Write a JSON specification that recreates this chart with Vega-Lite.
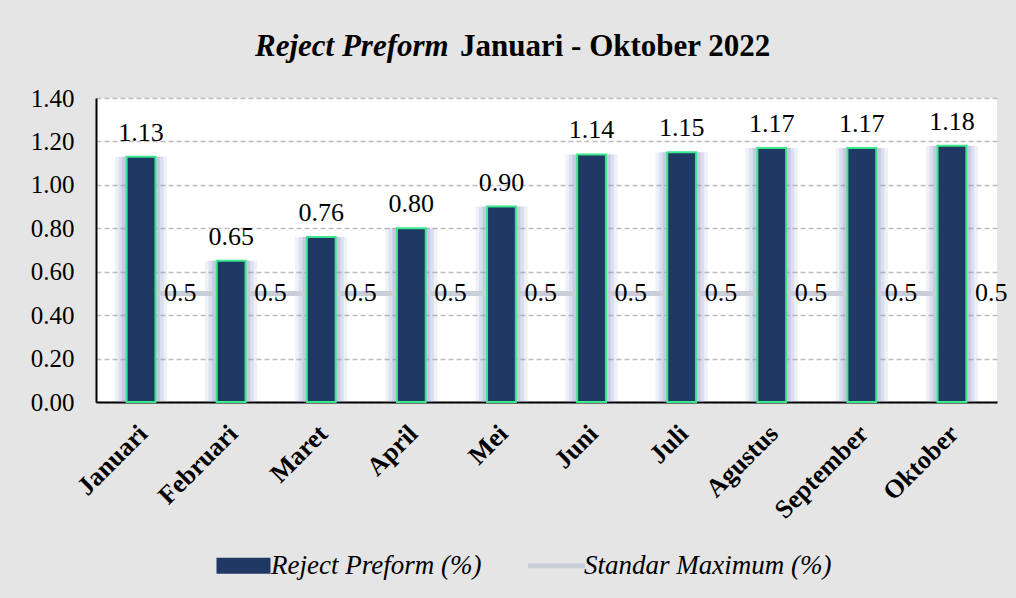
{
  "$schema": "https://vega.github.io/schema/vega-lite/v6.json",
  "autosize": "none",
  "width": 901,
  "height": 304,
  "padding": {"left": 96, "top": 98, "right": 19, "bottom": 196},
  "background": "#E5E5E5",
  "config": {
    "font": "Liberation Serif",
    "view": {"fill": "white", "stroke": null}
  },
  "title": {
    "text": "Reject Preform",
    "subtitle": "Januari - Oktober 2022",
    "anchor": "start",
    "align": "left",
    "frame": "group",
    "font": "Liberation Serif",
    "fontSize": 31,
    "fontStyle": "italic",
    "fontWeight": "bold",
    "subtitleFont": "Liberation Serif",
    "subtitleFontSize": 31,
    "subtitleFontStyle": "normal",
    "subtitleFontWeight": "bold",
    "subtitleColor": "black",
    "subtitlePadding": -31,
    "color": "black",
    "offset": 23,
    "encode": {
      "title": {"update": {"dx": {"value": 159}}},
      "subtitle": {"update": {"dx": {"value": 364}}}
    }
  },
  "data": {
    "values": [
      {"bulan": "Januari", "reject": 1.13, "standar": 0.5},
      {"bulan": "Februari", "reject": 0.65, "standar": 0.5},
      {"bulan": "Maret", "reject": 0.76, "standar": 0.5},
      {"bulan": "April", "reject": 0.80, "standar": 0.5},
      {"bulan": "Mei", "reject": 0.90, "standar": 0.5},
      {"bulan": "Juni", "reject": 1.14, "standar": 0.5},
      {"bulan": "Juli", "reject": 1.15, "standar": 0.5},
      {"bulan": "Agustus", "reject": 1.17, "standar": 0.5},
      {"bulan": "September", "reject": 1.17, "standar": 0.5},
      {"bulan": "Oktober", "reject": 1.18, "standar": 0.5}
    ]
  },
  "encoding": {
    "x": {
      "field": "bulan", "type": "nominal", "sort": null,
      "scale": {"paddingInner": 0, "paddingOuter": 0},
      "axis": {
        "title": null, "labelAngle": -45, "labelFont": "Liberation Serif",
        "labelFontSize": 26, "labelFontWeight": "bold", "labelColor": "black",
        "ticks": false, "labelPadding": 18, "labelOffset": -7, "domainColor": "black", "domainWidth": 2
      }
    }
  },
  "layer": [
    {
      "mark": {"type": "bar", "width": {"band": 0.58}, "color": "#7F8FC4", "opacity": 0.12},
      "encoding": {"y": {"field": "reject", "type": "quantitative"}}
    },
    {
      "mark": {"type": "bar", "width": {"band": 0.5}, "color": "#7F8FC4", "opacity": 0.18},
      "encoding": {"y": {"field": "reject", "type": "quantitative"}}
    },
    {
      "mark": {"type": "bar", "width": {"band": 0.42}, "color": "#7F8FC4", "opacity": 0.25},
      "encoding": {"y": {"field": "reject", "type": "quantitative"}}
    },
    {
      "mark": {"type": "line", "strokeWidth": 5, "strokeCap": "butt"},
      "encoding": {
        "y": {"field": "standar", "type": "quantitative"},
        "color": {"datum": "Standar Maximum (%)"}
      }
    },
    {
      "mark": {"type": "bar", "width": {"band": 0.32}, "stroke": "#39E88A", "strokeWidth": 2, "fillOpacity": 1},
      "encoding": {
        "y": {
          "field": "reject", "type": "quantitative",
          "scale": {"domain": [0, 1.4], "nice": false},
          "axis": {
            "title": null, "values": [0, 0.2, 0.4, 0.6, 0.8, 1.0, 1.2, 1.4], "format": ".2f",
            "labelFont": "Liberation Serif", "labelFontSize": 25, "labelColor": "black",
            "ticks": false, "labelPadding": 22, "domainColor": "black", "domainWidth": 2,
            "grid": true, "gridColor": "#BDBDBD", "gridDash": [5, 3], "gridWidth": 1.5
          }
        },
        "color": {
          "datum": "Reject Preform (%)",
          "scale": {"domain": ["Reject Preform (%)", "Standar Maximum (%)"], "range": ["#203864", "#C9CED8"]},
          "legend": {
            "title": null, "orient": "none", "legendX": 134, "legendY": 454, "direction": "horizontal",
            "labelFont": "Liberation Serif", "labelFontSize": 27, "labelFontStyle": "italic", "labelColor": "black",
            "labelLimit": 0,
            "symbolType": "M-1,-0.27H1V0.27H-1Z", "symbolSize": 2704, "symbolStrokeWidth": 2,
            "columnPadding": 45, "labelOffset": 14,
            "encoding": {
              "symbols": {
                "shape": {"value": {"expr": "datum.value == 'Reject Preform (%)' ? 'M-1,-0.27H1V0.27H-1Z' : 'M-1.1,-0.1H1.1V0.1H-1.1Z'"}},
                "stroke": {"value": {"expr": "datum.value == 'Reject Preform (%)' ? '#39E88A' : '#C9CED8'"}},
                "strokeWidth": {"value": {"expr": "datum.value == 'Reject Preform (%)' ? 2 : 0"}},
                "opacity": {"value": 1}
              }
            }
          }
        }
      }
    },
    {
      "mark": {"type": "text", "fontSize": 26, "font": "Liberation Serif", "color": "black", "baseline": "alphabetic", "dy": -16},
      "encoding": {
        "y": {"field": "reject", "type": "quantitative"},
        "text": {"field": "reject", "type": "quantitative", "format": ".2f"}
      }
    },
    {
      "mark": {"type": "text", "fontSize": 26, "font": "Liberation Serif", "color": "black", "baseline": "middle", "align": "left", "dx": 23},
      "encoding": {
        "y": {"field": "standar", "type": "quantitative"},
        "text": {"field": "standar", "type": "quantitative"}
      }
    }
  ]
}
